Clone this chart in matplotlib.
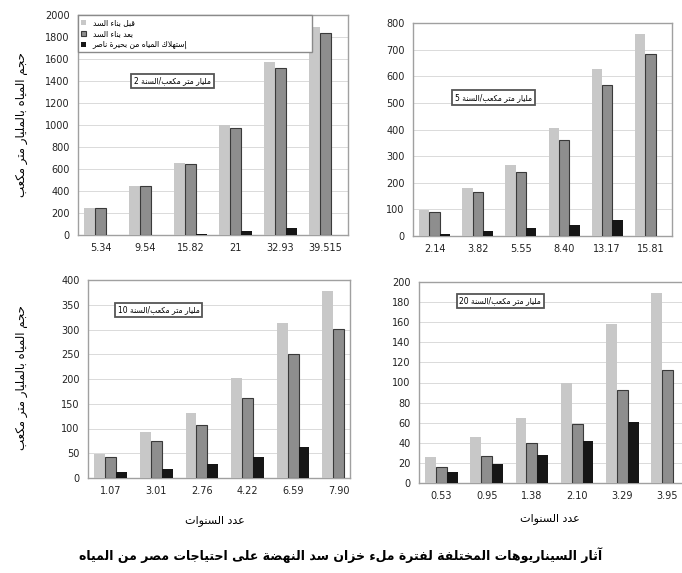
import matplotlib
matplotlib.use("Agg")
import matplotlib.pyplot as plt
import numpy as np

# ---- data ----
years1 = ["5.34", "9.54", "15.82", "21", "32.93", "39.515"]
before1 = [248, 448, 655, 1000, 1575, 1895]
after1 = [245, 448, 648, 970, 1518, 1836]
cons1 = [0, 3, 10, 35, 62, 0]

years2 = ["2.14", "3.82", "5.55", "8.40", "13.17", "15.81"]
before2 = [98, 180, 267, 405, 627, 758]
after2 = [90, 165, 240, 360, 566, 683]
cons2 = [8, 20, 30, 42, 60, 0]

years3 = ["1.07", "3.01", "2.76", "4.22", "6.59", "7.90"]
before3 = [49, 92, 131, 202, 314, 378]
after3 = [43, 75, 108, 161, 251, 302]
cons3 = [12, 18, 28, 43, 63, 0]

years4 = ["0.53", "0.95", "1.38", "2.10", "3.29", "3.95"]
before4 = [26, 46, 65, 100, 158, 189]
after4 = [16, 27, 40, 59, 93, 112]
cons4 = [11, 19, 28, 42, 61, 0]

rates = [2, 5, 10, 20]

legend_labels = ["قبل بناء السد", "بعد بناء السد", "إستهلاك المياه من بحيرة ناصر"]
ylabel = "حجم المياه بالمليار متر مكعب"
xlabel = "عدد السنوات"
box_text = "مليار متر مكعب/السنة"
title = "آثار السيناريوهات المختلفة لفترة ملء خزان سد النهضة على احتياجات مصر من المياه"


# ---- tiny arabic shaper (no reshaper lib in the sandbox) ----
counts = [1, 2, 2, 2, 2, 4, 2, 4, 2, 4, 4, 4, 4, 4, 2, 2, 2, 2, 4, 4, 4, 4, 4, 4, 4, 4,
          4, 4, 4, 4, 4, 4, 4, 2, 2, 4]
letters = [chr(c) for c in range(0x0621, 0x063B)] + [chr(c) for c in range(0x0641, 0x064B)]
FORMS = {}
code = 0xFE80
for ch, n in zip(letters, counts):
    FORMS[ch] = tuple(chr(code + k) for k in range(n))
    code += n
LAMALEF = {"آ": 0xFEF5, "أ": 0xFEF7, "إ": 0xFEF9, "ا": 0xFEFB}
for a, c in LAMALEF.items():
    FORMS["ل" + a] = (chr(c), chr(c + 1))


def shape(text):
    items = []
    i = 0
    while i < len(text):
        if text[i] == "ل" and i + 1 < len(text) and text[i + 1] in LAMALEF:
            items.append(text[i:i + 2])
            i += 2
        else:
            items.append(text[i])
            i += 1
    out = []
    for i, it in enumerate(items):
        if it not in FORMS or len(FORMS[it]) == 1:
            out.append(FORMS.get(it, (it,))[0])
            continue
        prev = items[i - 1] if i > 0 else None
        nxt = items[i + 1] if i + 1 < len(items) else None
        jp = prev in FORMS and len(FORMS[prev]) == 4
        jn = len(FORMS[it]) == 4 and nxt in FORMS and len(FORMS[nxt]) > 1
        f = FORMS[it]
        if jp and jn:
            out.append(f[3])
        elif jp:
            out.append(f[1])
        elif jn:
            out.append(f[2])
        else:
            out.append(f[0])
    return "".join(out[::-1])


c_before = "#c8c8c8"
c_after = "#8e8e8e"
c_cons = "#161616"
w = 0.24

plt.rcParams["font.family"] = ["DejaVu Sans"]

fig = plt.figure(figsize=(6.82, 5.73), dpi=100)
W, H = 682.0, 573.0


def axes_px(left, top, right, bottom):
    return fig.add_axes([left / W, 1 - bottom / H, (right - left) / W, (bottom - top) / H])


panels = [
    (axes_px(78, 15, 348, 235), years1, before1, after1, cons1, 2000, 200, (0.35, 0.70), 5.5),
    (axes_px(413, 23, 672, 236), years2, before2, after2, cons2, 800, 100, (0.31, 0.65), 5.5),
    (axes_px(88, 280, 350, 478), years3, before3, after3, cons3, 400, 50, (0.27, 0.85), 5.25),
    (axes_px(419, 282, 690, 483), years4, before4, after4, cons4, 200, 20, (0.30, 0.905), 5.5),
]

for k, (ax, yrs, b, a, c, ymax, step, bpos, xr) in enumerate(panels):
    x = np.arange(len(yrs))
    h1 = ax.bar(x - w, b, w, color=c_before, zorder=3)
    h2 = ax.bar(x, a, w, color=c_after, edgecolor="#3a3a3a", linewidth=0.8, zorder=3)
    h3 = ax.bar(x + w, c, w, color=c_cons, zorder=3)
    ax.set_xlim(-0.5, xr)
    ax.set_ylim(0, ymax)
    ax.set_yticks(np.arange(0, ymax + 1, step))
    ax.set_xticks(x)
    ax.set_xticklabels(yrs)
    ax.tick_params(axis="both", length=0, labelsize=7, colors="#222222", pad=6)
    ax.yaxis.grid(True, color="#dadada", linewidth=0.7, zorder=0)
    for s in ax.spines.values():
        s.set_color("#a0a0a0")
        s.set_linewidth(1.0)
    ax.text(bpos[0], bpos[1], str(rates[k]) + " " + shape(box_text), transform=ax.transAxes,
            fontsize=5.5, ha="center", va="center", zorder=5,
            bbox=dict(boxstyle="square,pad=0.35", fc="white", ec="#555555", lw=1.3))
    if k == 0:
        leg = ax.legend([h1, h2, h3], [shape(t) for t in legend_labels], loc="upper left",
                        bbox_to_anchor=(0, 1, 0.865, 0), mode="expand", borderaxespad=0,
                        fontsize=5.5, handlelength=0.7, handleheight=0.7, fancybox=False,
                        framealpha=1, edgecolor="#8a8a8a", labelspacing=0.25)
        leg.get_frame().set_linewidth(1.0)
        leg.set_zorder(6)

fig.text(22 / W, 1 - 125 / H, shape(ylabel), rotation=90, ha="center", va="center", fontsize=8.5)
fig.text(22 / W, 1 - 378 / H, shape(ylabel), rotation=90, ha="center", va="center", fontsize=8.5)
fig.text(215 / W, 1 - 521 / H, shape(xlabel), ha="center", va="center", fontsize=8)
fig.text(550 / W, 1 - 519 / H, shape(xlabel), ha="center", va="center", fontsize=8)
fig.text(341 / W, 1 - 555 / H, shape(title), ha="center", va="center", fontsize=9, fontweight="bold")

fig.savefig("out.png", dpi=100)
